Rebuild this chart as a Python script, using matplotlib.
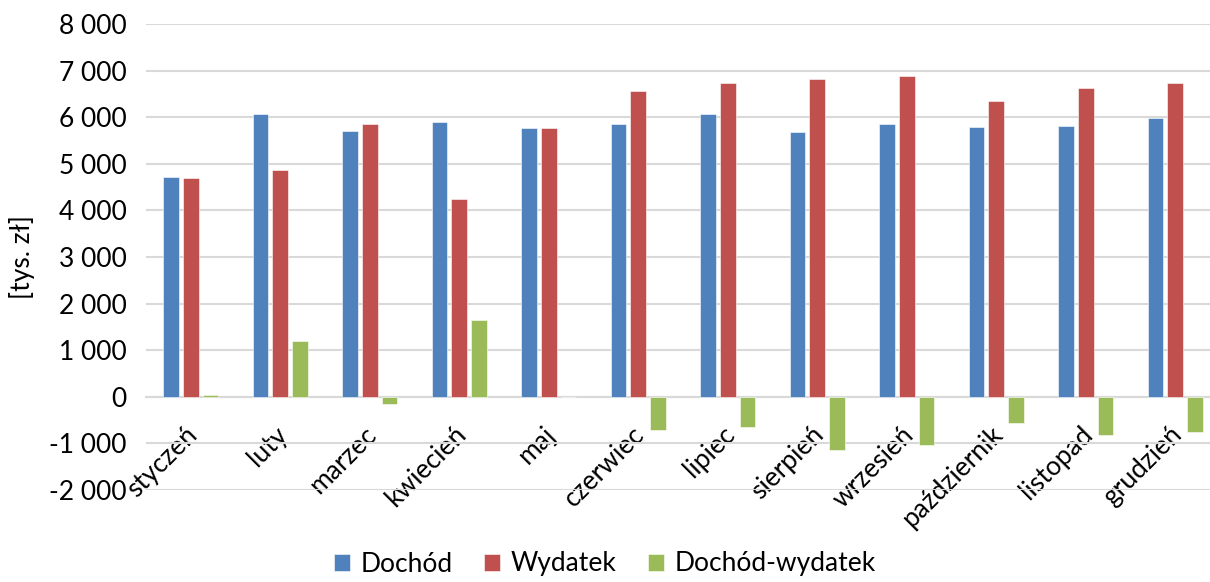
import numpy as np
import matplotlib
matplotlib.use("Agg")
import matplotlib.pyplot as plt
import matplotlib.transforms as mtransforms
from matplotlib.ticker import FuncFormatter, MultipleLocator

plt.rcParams['font.family'] = ['Lato', 'DejaVu Sans']

# Data [tys. zł]
months = ['styczeń', 'luty', 'marzec', 'kwiecień', 'maj', 'czerwiec',
          'lipiec', 'sierpień', 'wrzesień', 'październik', 'listopad', 'grudzień']
dochod = [4715, 6075, 5700, 5895, 5765, 5860, 6075, 5680, 5860, 5790, 5810, 5975]
wydatek = [4685, 4870, 5860, 4245, 5765, 6570, 6730, 6815, 6890, 6355, 6620, 6730]
roznica = [30, 1205, -165, 1650, -15, -715, -655, -1140, -1030, -570, -810, -760]

series = [('Dochód', dochod, '#4F81BD'),
          ('Wydatek', wydatek, '#C0504D'),
          ('Dochód-wydatek', roznica, '#9BBB59')]

W, H = 1210, 582
fs = 19
fig = plt.figure(figsize=(W / 100, H / 100), dpi=100)
ax = fig.add_axes([146 / W, 1 - 490 / H, (W - 146) / W, (490 - 24) / H])
ax.set_axisbelow(True)

x = np.arange(len(months))
bw = 0.175
step = 0.22
for i, (name, vals, col) in enumerate(series):
    ax.bar(x + (i - 1) * step, vals, bw, color=col, label=name,
           edgecolor='white', linewidth=0.4, zorder=3)

ax.set_ylim(-2000, 8000)
ax.set_xlim(-0.5, -0.5 + (W - 146) / 89.5)
ax.yaxis.set_major_locator(MultipleLocator(1000))
ax.yaxis.set_major_formatter(FuncFormatter(lambda v, p: f"{int(v):,}".replace(',', ' ')))
ax.grid(axis='y', color='#D9D9D9', linewidth=1.5, zorder=0)

for s in ['top', 'right', 'left']:
    ax.spines[s].set_visible(False)
ax.spines['bottom'].set_position(('data', 0))
ax.spines['bottom'].set_color('#D9D9D9')
ax.spines['bottom'].set_linewidth(1.5)

# month labels hang from the zero line, rotated 45 degrees
ax.set_xticks(x)
ax.set_xticklabels(months, rotation=45, ha='right', va='top',
                   rotation_mode='anchor', fontsize=fs)
ax.tick_params(axis='x', length=0, pad=18)
shift = mtransforms.ScaledTranslation(-6 / 100, 0, fig.dpi_scale_trans)
for lab in ax.get_xticklabels():
    lab.set_transform(lab.get_transform() + shift)
    lab.set_zorder(4)
ax.tick_params(axis='y', length=0, labelsize=fs, pad=14)
ax.set_ylabel('[tys. zł]', fontsize=fs, labelpad=10)

fig.legend(loc='center', bbox_to_anchor=(0.5, 1 - 564 / H), ncol=3, frameon=False,
           fontsize=fs, handlelength=0.6, handleheight=0.6, columnspacing=1.2,
           handletextpad=0.4, borderpad=0)

fig.savefig('out.png', dpi=100)
